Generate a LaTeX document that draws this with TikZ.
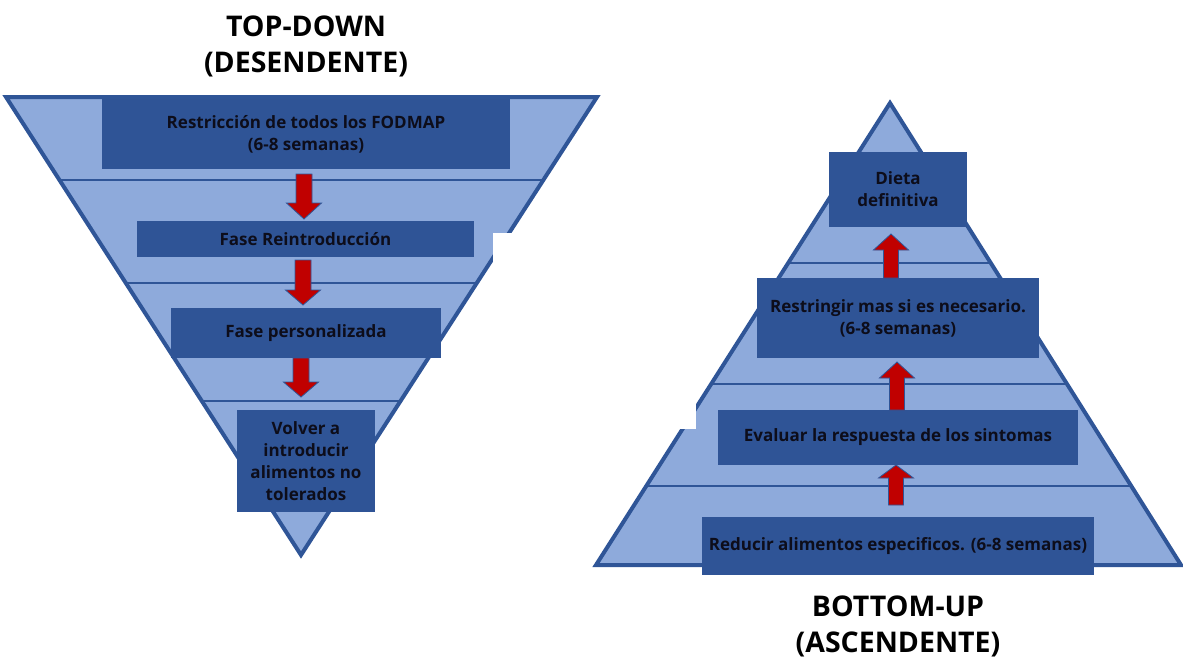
\documentclass[tikz,border=0pt]{standalone}
\usepackage{fontspec}
\setmainfont{Open Sans}
\usetikzlibrary{calc}
\definecolor{pyrfill}{HTML}{8EAADB}
\definecolor{pyrline}{HTML}{2F5597}
\definecolor{boxfill}{HTML}{2F5496}
\definecolor{arrred}{HTML}{C00000}
\definecolor{txt}{HTML}{0D0D1A}
\tikzset{
  pyrborder/.style={draw=pyrline, line width=4pt, line join=miter},
  divider/.style={draw=pyrline, line width=1.8pt},
  stepbox/.style={fill=boxfill, draw=none, text=txt, align=center, inner sep=0pt,
    font=\bfseries\fontsize{17}{22}\selectfont},
  title/.style={font=\bfseries\fontsize{28.5}{36}\selectfont, align=center, text=black},
  blockarrow/.style={fill=arrred, draw=pyrline, line width=0.8pt, line join=miter},
  patch/.style={fill=white, draw=none}
}
% \barrowdown{x}{ytop}{yheadbase}{ytip}{half shaft}{half head}
\newcommand{\barrowdown}[6]{%
  \path[blockarrow] (#1-#5,#2) -- (#1+#5,#2) -- (#1+#5,#3) -- (#1+#6,#3) -- (#1,#4)
    -- (#1-#6,#3) -- (#1-#5,#3) -- cycle;}
\begin{document}
\begin{tikzpicture}[x=1pt,y=-1pt]
\useasboundingbox (0,0) rectangle (1183,659);

% ---------------- left: top-down ----------------
\fill[pyrfill] (6,97) -- (597,97) -- (301,555) -- cycle;
\begin{scope}
  \clip (6,97) -- (597,97) -- (301,555) -- cycle;
  \draw[divider] (0,180) -- (600,180);
  \draw[divider] (0,283) -- (600,283);
  \draw[divider] (0,401) -- (600,401);
\end{scope}
\draw[pyrborder] (6,97) -- (597,97) -- (301,555) -- cycle;
\fill[patch] (493,233) rectangle (520,262);

\node[title] (tl) at (306,46) {TOP-DOWN\\(DESENDENTE)};

\node[stepbox, minimum width=408pt, minimum height=70pt] (l1) at (306,134)
  {Restricción de todos los FODMAP\\(6-8 semanas)};
\node[stepbox, minimum width=337pt, minimum height=36pt] (l2) at (305.5,239)
  {Fase Reintroducción};
\node[stepbox, minimum width=270pt, minimum height=50pt] (l3) at (306,333)
  {Fase personalizada};
\node[stepbox, minimum width=138pt, minimum height=102pt] (l4) at (306,461)
  {Volver a\\introducir\\alimentos no\\tolerados};

\barrowdown{304}{174}{203}{219}{8}{17.5}
\barrowdown{303}{260}{290}{305}{8}{17.5}
\barrowdown{301}{358}{382}{397}{8}{17.5}

% ---------------- right: bottom-up ----------------
\fill[pyrfill] (890,103) -- (1181,565) -- (596,565) -- cycle;
\begin{scope}
  \clip (890,103) -- (1181,565) -- (596,565) -- cycle;
  \draw[divider] (580,263) -- (1183,263);
  \draw[divider] (580,384) -- (1183,384);
  \draw[divider] (580,486) -- (1183,486);
\end{scope}
\draw[pyrborder] (890,103) -- (1181,565) -- (596,565) -- cycle;
\fill[patch] (670,403) rectangle (696,429);

\node[stepbox, minimum width=138pt, minimum height=75pt] (r4) at (898,189.5)
  {Dieta\\definitiva};
\node[stepbox, minimum width=282pt, minimum height=80pt] (r3) at (898,318)
  {Restringir mas si es necesario.\\(6-8 semanas)};
\node[stepbox, minimum width=360pt, minimum height=55pt] (r2) at (898,437.5)
  {Evaluar la respuesta de los sintomas};
\node[stepbox, minimum width=392pt, minimum height=58pt] (r1) at (898,546)
  {Reducir alimentos especificos. (6-8 semanas)};

\barrowdown{891}{278}{250}{234}{7.5}{17.5}
\barrowdown{897}{410}{378}{362}{7.5}{17.5}
\barrowdown{896}{505}{478}{465}{7.5}{17.5}

\node[title] (tr) at (898,626) {BOTTOM-UP\\(ASCENDENTE)};
\end{tikzpicture}
\end{document}
